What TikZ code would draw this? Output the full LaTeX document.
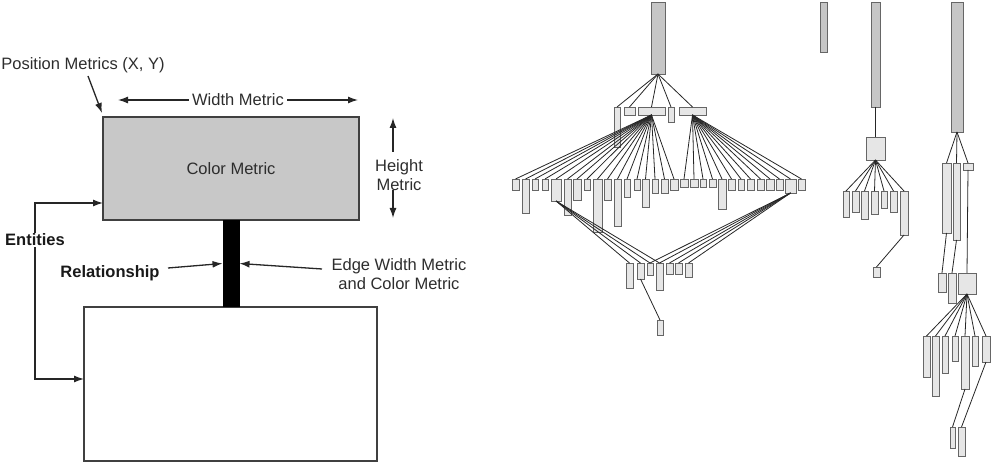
\documentclass[tikz,border=0pt]{standalone}
\usepackage{fontspec}
\setmainfont{Liberation Sans}
\usetikzlibrary{arrows.meta}
\definecolor{boxgrey}{RGB}{200,200,200}
\definecolor{rootgrey}{RGB}{198,198,198}
\definecolor{leafgrey}{RGB}{230,230,230}
\definecolor{textgrey}{RGB}{45,45,45}

\begin{document}
\begin{tikzpicture}[x=1pt, y=-1pt, >={Latex[length=10pt,width=7pt]},
  font=\fontsize{16.5}{19.5}\selectfont,
  ent/.style={draw=black!75, line width=1.5pt, inner sep=0pt, outer sep=0pt, anchor=north west},
  lbl/.style={text=textgrey, align=center},
  btxt/.style={text=black!90, inner ysep=1pt, font=\fontsize{16.5}{19.5}\selectfont\bfseries},
  arr/.style={->, line width=1.3pt, black!85},
  tleaf/.style={draw=black!60, fill=leafgrey, line width=0.9pt, inner sep=0pt, outer sep=0pt, anchor=north west},
  troot/.style={tleaf, fill=rootgrey},
  tedge/.style={line width=0.8pt, black!85}]
\useasboundingbox (0,0) rectangle (1005,470);

% entity sketch
\node[ent, fill=boxgrey, minimum width=256pt, minimum height=103pt] (top) at (103,117) {};
\node[lbl] (colour) at (top.center) {Color Metric};
\node[ent, fill=white, minimum width=293pt, minimum height=154pt] (bottom) at (84,307) {};
\node[fill=black, inner sep=0pt, outer sep=0pt, minimum width=17pt, minimum height=87pt, anchor=north] (link) at (top.south) {};

\node[lbl] (pos) at (83,65) {Position Metrics (X, Y)};
\node[lbl] (wtext) at (238,100) {Width Metric};
\node[lbl] (htext) at (399,175) {Height\\Metric};
\node[btxt] (entities) at (35,240) {Entities};
\node[btxt] (rel) at (110,273) {Relationship};
\node[lbl] (ewtext) at (399,274) {Edge Width Metric\\and Color Metric};

\coordinate (posfrom) at (88,76);
\coordinate (posto) at (102,113);
\coordinate (wl) at (118,100);
\coordinate (wr) at (358,100);
\coordinate (hup) at (393,152);
\coordinate (hu) at (393,118);
\coordinate (hdown) at (393,190);
\coordinate (hd) at (393,218);
\coordinate (eu) at (103,203);
\coordinate (ed) at (84,379);
\coordinate (relfrom) at (168,268);
\coordinate (ewfrom) at (322,269);

\draw[arr] (posfrom) -- (posto);
\draw[arr] (wtext.west) -- (wl);
\draw[arr] (wtext.east) -- (wr);
\draw[arr] (hup) -- (hu);
\draw[arr] (hdown) -- (hd);
\draw[arr] (entities.north) |- (eu);
\draw[arr] (entities.south) |- (ed);
\draw[arr] (relfrom) -- (link.west);
\draw[arr] (ewfrom) -- (link.east);

% large tree
\node[troot, minimum width=14pt, minimum height=72pt] (r1) at (651,2) {};
\foreach \x/\w/\h [count=\i] in {614/6/40, 624/11/8, 638/27/8, 668/6/15, 679/27/8}
  \node[tleaf, minimum width=\w pt, minimum height=\h pt] (b\i) at (\x,107) {};
\foreach \x/\w/\h [count=\i] in {512/7/11, 522/7/34, 532/6/11, 542/6/11, 551/10/22, 564/7/36, 573/8/21, 584/6/11, 593/9/53, 604/7/21, 614/7/47, 624/6/18, 634/6/11, 642/7/28, 652/6/14, 661/7/14, 670/8/11, 680/8/8, 690/8/8, 700/6/8, 709/7/8, 718/8/30, 728/7/11, 738/6/11, 747/7/11, 757/7/11, 766/8/11, 776/7/11, 785/11/14, 798/7/11}
  \node[tleaf, minimum width=\w pt, minimum height=\h pt] (c\i) at (\x,179) {};
\foreach \x/\w/\h [count=\i] in {626/7/25, 637/7/16, 647/6/12, 656/7/27, 666/7/11, 675/7/11, 685/7/14}
  \node[tleaf, minimum width=\w pt, minimum height=\h pt] (d\i) at (\x,263) {};
\node[tleaf, minimum width=6pt, minimum height=15pt] (e1) at (657,320) {};

\foreach \i in {1,...,5} \draw[tedge] (r1.south) -- (b\i.north);
\foreach \i in {1,...,17} \draw[tedge] (b3.south) -- (c\i.north);
\foreach \i in {18,...,30} \draw[tedge] (b5.south) -- (c\i.north);
\foreach \i in {1,...,4} \draw[tedge] (c5.south) -- (d\i.north);
\foreach \i in {3,...,7} \draw[tedge] (c29.south) -- (d\i.north);
\draw[tedge] (d2.south) -- (e1.north);

% single entity
\node[troot, minimum width=7pt, minimum height=50pt] (s1) at (820,2) {};

% middle tree
\node[troot, minimum width=9pt, minimum height=105pt] (r3) at (871,2) {};
\node[tleaf, minimum width=19pt, minimum height=23pt] (q3) at (866,137) {};
\foreach \x/\w/\h [count=\i] in {843/6/26, 852/7/21, 861/7/28, 871/7/23, 881/6/17, 890/7/21, 900/8/44}
  \node[tleaf, minimum width=\w pt, minimum height=\h pt] (g\i) at (\x,191) {};
\node[tleaf, minimum width=7pt, minimum height=10pt] (g8) at (873,267) {};
\draw[tedge] (r3.south) -- (q3.north);
\foreach \i in {1,...,7} \draw[tedge] (q3.south) -- (g\i.north);
\draw[tedge] (g7.south) -- (g8.north);

% right tree
\node[troot, minimum width=12pt, minimum height=130pt] (r4) at (951,2) {};
\node[tleaf, minimum width=9pt, minimum height=70pt] (h1) at (942,163) {};
\node[tleaf, minimum width=7pt, minimum height=77pt] (h2) at (953,163) {};
\node[tleaf, minimum width=10pt, minimum height=7pt] (h3) at (963,163) {};
\node[tleaf, minimum width=8pt, minimum height=19pt] (k1) at (938,273) {};
\node[tleaf, minimum width=8pt, minimum height=30pt] (k2) at (948,273) {};
\node[tleaf, minimum width=18pt, minimum height=21pt] (k3) at (958,273) {};
\foreach \x/\w/\h [count=\i] in {923/7/41, 932/7/60, 942/6/37, 952/6/25, 961/8/53, 972/6/30, 982/8/26}
  \node[tleaf, minimum width=\w pt, minimum height=\h pt] (m\i) at (\x,336) {};
\node[tleaf, minimum width=5pt, minimum height=21pt] (n1) at (950,427) {};
\node[tleaf, minimum width=7pt, minimum height=29pt] (n2) at (958,427) {};
\foreach \i in {1,2,3} \draw[tedge] (r4.south) -- (h\i.north);
\draw[tedge] (h1.south) -- (k1.north);
\draw[tedge] (h2.south) -- (k2.north);
\draw[tedge] (h3.south) -- (k3.north);
\foreach \i in {1,...,7} \draw[tedge] (k3.south) -- (m\i.north);
\draw[tedge] (m5.south) -- (n1.north);
\draw[tedge] (m7.south) -- (n2.north);
\end{tikzpicture}
\end{document}
